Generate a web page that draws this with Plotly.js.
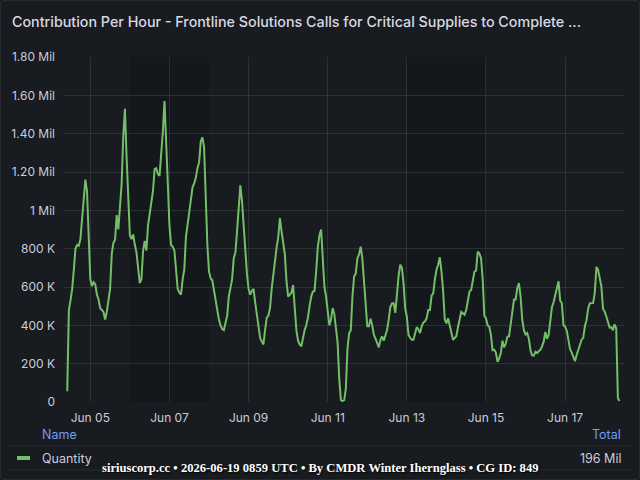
<!DOCTYPE html>
<html>
<head>
<meta charset="utf-8">
<script src="https://cdn.plot.ly/plotly-3.0.1.min.js"></script>
<style>
  html, body { margin: 0; padding: 0; background: #111217; }
  #panel {
    position: absolute; left: 0; top: 0; width: 638px; height: 478px;
    border: 1px solid #25282d; border-radius: 3px; background: #181b1f; overflow: hidden;
  }
  #chart { position: absolute; left: -1px; top: -1px; width: 640px; height: 480px; }
</style>
</head>
<body>
<div id="panel"><div id="chart"></div></div>
<script>
// Hourly contribution (thousands of units), one array per UTC day.
// Jun 04 starts at 10:00, Jun 18 ends at 09:00.
const jun04 = [56, 480, 530, 590, 690, 800, 820, 815, 850, 960, 1100, 1160, 1100, 870];
const jun05 = [640, 605, 625, 615, 560, 535, 490, 480, 470, 430, 470, 530, 590, 770, 830, 845, 975, 900, 1000, 1140, 1390, 1530, 1280, 1050];
const jun06 = [870, 850, 875, 820, 780, 700, 620, 640, 790, 840, 790, 920, 970, 1040, 1100, 1215, 1220, 1190, 1180, 1280, 1410, 1570, 1390, 1140];
const jun07 = [920, 820, 810, 790, 690, 590, 570, 560, 640, 690, 860, 920, 990, 1050, 1120, 1140, 1170, 1220, 1250, 1360, 1380, 1330, 1050, 820];
const jun08 = [680, 645, 635, 580, 535, 490, 430, 400, 380, 375, 410, 450, 550, 600, 640, 750, 780, 890, 1040, 1130, 1050, 920, 790, 670];
const jun09 = [590, 560, 580, 590, 520, 460, 375, 335, 315, 300, 375, 440, 450, 490, 590, 670, 750, 805, 860, 960, 890, 835, 770, 630];
const jun10 = [550, 560, 570, 610, 490, 375, 320, 300, 290, 340, 375, 400, 440, 500, 550, 575, 580, 680, 810, 870, 900, 750, 600, 550];
const jun11 = [470, 400, 430, 490, 460, 395, 310, 120, 10, 5, 10, 70, 280, 360, 375, 550, 655, 670, 750, 770, 810, 750, 630, 470];
const jun12 = [395, 395, 435, 400, 350, 330, 305, 285, 325, 343, 320, 350, 375, 430, 495, 515, 515, 465, 580, 660, 716, 700, 620, 490];
const jun13 = [445, 350, 335, 325, 325, 365, 390, 380, 360, 395, 415, 420, 437, 480, 480, 555, 567, 640, 690, 716, 755, 680, 580, 430];
const jun14 = [410, 437, 395, 360, 325, 334, 343, 390, 428, 470, 463, 455, 480, 530, 576, 584, 645, 680, 685, 785, 775, 750, 640, 450];
const jun15 = [437, 400, 393, 350, 270, 273, 258, 210, 228, 255, 320, 285, 305, 340, 343, 405, 445, 535, 535, 595, 620, 550, 430, 375];
const jun16 = [352, 360, 330, 270, 243, 242, 262, 256, 265, 272, 290, 315, 365, 330, 350, 440, 495, 520, 555, 582, 630, 530, 515, 400];
const jun17 = [393, 372, 330, 275, 258, 232, 213, 245, 272, 290, 325, 335, 395, 427, 488, 515, 515, 516, 570, 705, 690, 645, 602, 485];
const jun18 = [472, 446, 411, 388, 390, 375, 405, 385, 20, 5];

const seriesStart = '2026-06-04T10:00:00Z';
const seriesName = 'Quantity';

// Y axis ticks
const yTickVals = [0, 200000, 400000, 600000, 800000, 1000000, 1200000, 1400000, 1600000, 1800000];
const yTickText = ['0', '200 K', '400 K', '600 K', '800 K', '1 Mil', '1.20 Mil', '1.40 Mil', '1.60 Mil', '1.80 Mil'];

// Weekend time regions
const weekends = [['2026-06-06 00:00', '2026-06-08 00:00'], ['2026-06-13 00:00', '2026-06-15 00:00']];

const titleText = 'Contribution Per Hour - Frontline Solutions Calls for Critical Supplies to Complete ...';
const footerText = 'siriuscorp.cc \u2022 2026-06-19 0859 UTC \u2022 By CMDR Winter Ihernglass \u2022 CG ID: 849';

// ---- build series ----
const valuesK = [].concat(jun04, jun05, jun06, jun07, jun08, jun09, jun10, jun11, jun12, jun13, jun14, jun15, jun16, jun17, jun18);
const y = valuesK.map(v => v * 1000);
const t0 = Date.parse(seriesStart);
const fmt = ms => new Date(ms).toISOString().slice(0, 19).replace('T', ' ');
const x = valuesK.map((_, i) => fmt(t0 + i * 3600000));
const total = y.reduce((a, b) => a + b, 0);
const totalText = Math.round(total / 1e6) + ' Mil';

// ---- geometry (pixels) ----
const W = 640, H = 480, L = 63, R = 624, T = 57, B = 402;
const px = p => (p - L) / (R - L);
const py = p => (B - p) / (B - T);

const green = '#73bf69';
const textCol = '#ccccdc';
const font = 'Inter, "Open Sans", sans-serif';

const shapes = weekends.map(w => ({
  type: 'rect', xref: 'x', yref: 'paper', x0: w[0], x1: w[1], y0: 0, y1: 1,
  fillcolor: 'rgba(0,0,0,0.13)', line: { width: 0 }, layer: 'below'
}));
shapes.push(
  { type: 'line', xref: 'paper', yref: 'paper', x0: px(8), x1: px(632), y0: py(446), y1: py(446),
    line: { color: 'rgba(204,204,220,0.10)', width: 1 } },
  { type: 'line', xref: 'paper', yref: 'paper', x0: px(8), x1: px(632), y0: py(470), y1: py(470),
    line: { color: 'rgba(204,204,220,0.10)', width: 1 } },
  { type: 'line', xref: 'paper', yref: 'paper', x0: px(17), x1: px(30), y0: py(458), y1: py(458),
    line: { color: green, width: 4 } }
);

const ann = (text, xp, yp, anchor, color, size, extra) => Object.assign({
  text, xref: 'paper', yref: 'paper', x: px(xp), y: py(yp), xanchor: anchor, yanchor: 'middle',
  showarrow: false, font: { family: font, size, color }
}, extra || {});

const annotations = [
  ann('Name', 40, 434, 'left', '#6e9fff', 12.5),
  ann('Total', 623, 434, 'right', '#6e9fff', 12.5),
  ann(seriesName, 40, 458, 'left', textCol, 12.5),
  ann(totalText, 623, 458, 'right', textCol, 12.5),
  {
    text: '<b>' + footerText + '</b>', xref: 'paper', yref: 'paper', x: px(320), y: py(468),
    xanchor: 'center', yanchor: 'middle', showarrow: false,
    font: { family: '"Liberation Serif", "DejaVu Serif", serif', size: 12.6, color: '#ffffff',
            shadow: '1px 1px 2px #000' }
  }
];

const trace = {
  type: 'scatter', mode: 'lines', name: seriesName, x, y,
  line: { color: green, width: 2 }, hoverinfo: 'skip'
};

const layout = {
  width: W, height: H,
  margin: { l: L, r: W - R, t: T, b: H - B, pad: 0 },
  paper_bgcolor: 'rgba(0,0,0,0)', plot_bgcolor: 'rgba(0,0,0,0)',
  showlegend: false, hovermode: false,
  title: {
    text: titleText, xref: 'container', yref: 'container',
    x: 12 / W, xanchor: 'left', y: 1 - 22 / H, yanchor: 'middle',
    font: { family: font, size: 14.3, color: '#d8d9e3', weight: 500 }
  },
  xaxis: {
    type: 'date', range: ['2026-06-04 07:26', '2026-06-18 11:43'],
    tick0: '2026-06-05', dtick: 2 * 86400000, tickformat: '%b %d',
    showgrid: true, gridcolor: 'rgba(204,204,220,0.12)', gridwidth: 1,
    zeroline: false, showline: false, ticks: '', ticklabelstandoff: 7,
    tickfont: { family: font, size: 12, color: textCol }
  },
  yaxis: {
    range: [0, 1800000], tickmode: 'array', tickvals: yTickVals, ticktext: yTickText,
    showgrid: true, gridcolor: 'rgba(204,204,220,0.12)', gridwidth: 1,
    zeroline: false, showline: false, ticks: '', ticklabelstandoff: 7,
    tickfont: { family: font, size: 12, color: textCol }
  },
  shapes, annotations
};

Plotly.newPlot('chart', [trace], layout, { staticPlot: true, displayModeBar: false });
</script>
</body>
</html>
